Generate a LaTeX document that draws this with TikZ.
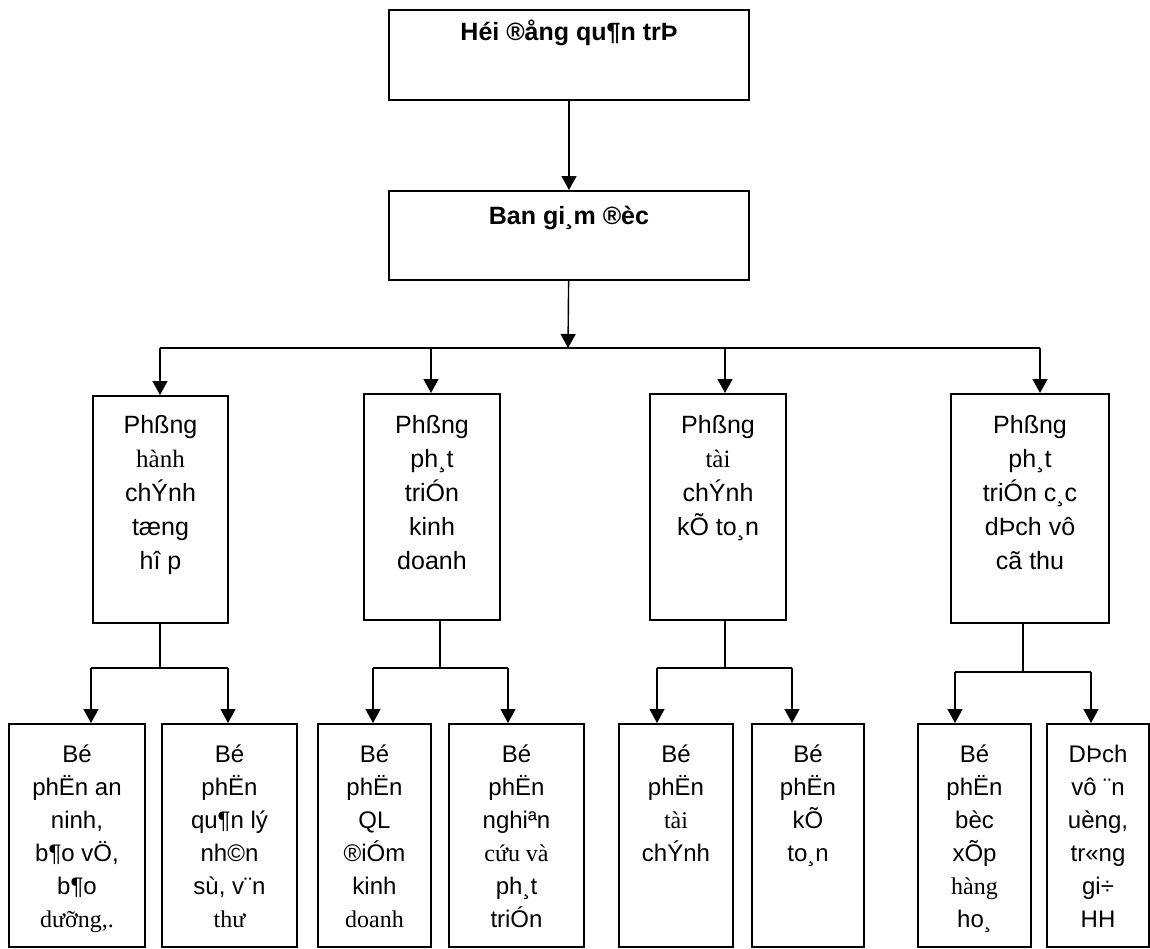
\documentclass[tikz,border=0pt]{standalone}
\usepackage{fontspec}
\setmainfont{Liberation Sans}
\newfontfamily\vnserif{Liberation Serif}
\usetikzlibrary{arrows.meta}

\tikzset{
  orgbox/.style={draw, line width=1pt, inner sep=0pt, anchor=north west},
  link/.style={line width=0.7pt},
  bus/.style={line width=1pt},
}
%% \boxtext{width}{height}{first baseline}{text}
\newcommand{\boxtext}[4]{\parbox[t][#2][t]{#1}{\centering\rule{0pt}{#3}#4}}
\newcommand{\lvtop}{\fontsize{12.5}{15}\selectfont\bfseries}
\newcommand{\lvtwo}{\fontsize{12.5}{17}\selectfont}
\newcommand{\lvthree}{\fontsize{12}{16.5}\selectfont}

\begin{document}
\begin{tikzpicture}[x=1pt, y=-1pt, >={Triangle[length=7pt, width=7.5pt]}]
\useasboundingbox (0,0) rectangle (575,474);

%% two boxes at the top
\node[orgbox] (hdqt) at (194,4.5) {\boxtext{180pt}{45pt}{15pt}{\lvtop Héi ®ång qu¶n trÞ}};
\node[orgbox] (bgd) at (194,95) {\boxtext{180pt}{44.5pt}{16.5pt}{\lvtop Ban gi¸m ®èc}};

%% departments
\node[orgbox] (p1) at (46,197.5) {\boxtext{67.5pt}{113.5pt}{18.5pt}{\lvtwo Phßng\\{\vnserif hành}\\chÝnh\\tæng\\hî p}};
\node[orgbox] (p2) at (181.5,196.5) {\boxtext{68pt}{113pt}{19.5pt}{\lvtwo Phßng\\ph¸t\\triÓn\\kinh\\doanh}};
\node[orgbox] (p3) at (324.5,196.5) {\boxtext{68pt}{113pt}{19.5pt}{\lvtwo Phßng\\{\vnserif tài}\\chÝnh\\kÕ to¸n}};
\node[orgbox] (p4) at (475,196.5) {\boxtext{79pt}{114.5pt}{19.5pt}{\lvtwo Phßng\\ph¸t\\triÓn c¸c\\dÞch vô\\cã thu}};

%% sections
\node[orgbox] (ba) at (4,361.5) {\boxtext{68pt}{111.5pt}{19pt}{\lvthree Bé\\phËn an\\ninh,\\b¶o vÖ,\\b¶o\\{\vnserif dưỡng,.}}};
\node[orgbox] (bb) at (80.5,361.5) {\boxtext{67.5pt}{111.5pt}{19pt}{\lvthree Bé\\phËn\\qu¶n lý\\nh©n\\sù, v¨n\\{\vnserif thư}}};
\node[orgbox] (bc) at (158.5,361.5) {\boxtext{56.5pt}{111.5pt}{19pt}{\lvthree Bé\\phËn\\QL\\®iÓm\\kinh\\{\vnserif doanh}}};
\node[orgbox] (bd) at (224,361.5) {\boxtext{67.5pt}{111.5pt}{19pt}{\lvthree Bé\\phËn\\nghiªn\\{\vnserif cứu và}\\ph¸t\\triÓn}};
\node[orgbox] (be) at (309,361.5) {\boxtext{57pt}{111.5pt}{19pt}{\lvthree Bé\\phËn\\{\vnserif tài}\\chÝnh}};
\node[orgbox] (bf) at (375.5,361.5) {\boxtext{56pt}{111.5pt}{19pt}{\lvthree Bé\\phËn\\kÕ\\to¸n}};
\node[orgbox] (bg) at (458.5,361.5) {\boxtext{56.5pt}{111.5pt}{19pt}{\lvthree Bé\\phËn\\bèc\\xÕp\\{\vnserif hàng}\\ho¸}};
\node[orgbox] (bh) at (523,361.5) {\boxtext{51pt}{111.5pt}{19pt}{\lvthree DÞch\\vô ¨n\\uèng,\\tr«ng\\gi÷\\HH}};

%% top links
\draw[link,->] (hdqt) -- (bgd);
\coordinate (hub) at (284,174);
\draw[link,->] (bgd) -- (hub);
\draw[bus] (80,174) coordinate (hubL) -- (520,174) coordinate (hubR);
\foreach \x/\n in {80/p1, 215.5/p2, 362.5/p3, 520/p4}
  \draw[link,->] (\x,174) -- (\x,174 |- \n.north);

%% links under each department: x of stem / bar y / left drop / right drop
\foreach \p/\s/\y/\l/\r/\a/\b in {p1/80/334/45.5/114/ba/bb,
                                  p2/220/334/186.5/254/bc/bd,
                                  p3/362.5/334/328.5/396/be/bf,
                                  p4/511.5/336/477.5/545.5/bg/bh}{
  \draw[link] (\s,0 |- \p.south) -- (\s,\y);
  \draw[bus] (\l,\y) -- (\r,\y);
  \draw[link,->] (\l,\y) -- (\l,\y |- \a.north);
  \draw[link,->] (\r,\y) -- (\r,\y |- \b.north);
}
\end{tikzpicture}
\end{document}
